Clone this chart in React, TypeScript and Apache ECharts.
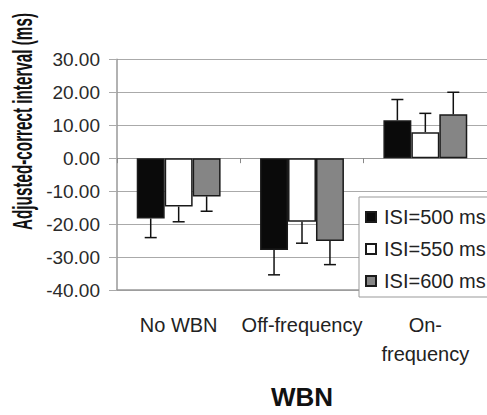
import { useEffect, useRef } from "react";
import * as echarts from "echarts";

const categories = ["No WBN", "Off-frequency", "On-frequency"];
const seriesNames = ["ISI=500 ms", "ISI=550 ms", "ISI=600 ms"];
const means500 = [-18.3, -27.9, 11.5];
const means550 = [-14.7, -19.3, 7.9];
const means600 = [-11.6, -25.1, 13.3];
const err500 = [5.8, 7.5, 6.3];
const err550 = [4.6, 6.5, 5.7];
const err600 = [4.5, 7.2, 6.7];
const yMin = -40;
const yMax = 30;
const yStep = 10;
const yTitle = "Adjusted-correct interval (ms)";
const xTitle = "WBN";

const FONT = "'Liberation Sans', Arial, Helvetica, sans-serif";
const barColors = ["#0a0a0a", "#ffffff", "#858585"];
const CAT_GAP = 0.32;

export default function App() {
  const ref = useRef<HTMLDivElement>(null);
  useEffect(() => {
    if (!ref.current) return;
    const chart = echarts.init(ref.current, null, { renderer: "svg" });
    const means = [means500, means550, means600];
    const errs = [err500, err550, err600];

    const barSeries = seriesNames.map((name, si) => ({
      name,
      type: "bar",
      xAxisIndex: 0,
      data: means[si],
      barGap: "0%",
      barCategoryGap: CAT_GAP * 100 + "%",
      itemStyle: { color: barColors[si], borderColor: "#1a1a1a", borderWidth: 1.5 },
      z: 2,
    }));

    const errSeries = seriesNames.map((name, si) => ({
      name: name + " err",
      type: "custom",
      xAxisIndex: 0,
      z: 3,
      encode: { x: 0, y: [1, 2] },
      data: categories.map((_, ci) => {
        const m = means[si][ci];
        return [ci, m, m + Math.sign(m) * errs[si][ci]];
      }),
      renderItem: (_params: any, api: any) => {
        const ci = api.value(0);
        const m = api.value(1);
        const e = api.value(2);
        const band = api.size([1, 0])[0];
        const bw = (band * (1 - CAT_GAP)) / 3;
        const p0 = api.coord([ci, m]);
        const p1 = api.coord([ci, e]);
        const x = p0[0] + (si - 1) * bw;
        const cap = 12;
        const st = { stroke: "#111", lineWidth: 1.5 };
        return {
          type: "group",
          children: [
            { type: "line", shape: { x1: x, y1: p0[1], x2: x, y2: p1[1] }, style: st },
            { type: "line", shape: { x1: x - cap / 2, y1: p1[1], x2: x + cap / 2, y2: p1[1] }, style: st },
          ],
        };
      },
    }));

    chart.setOption({
      animation: false,
      backgroundColor: "#ffffff",
      textStyle: { fontFamily: FONT },
      grid: { left: 117, top: 59.3, width: 373.5, height: 242.4, containLabel: false },
      legend: {
        data: seriesNames,
        orient: "vertical",
        left: 359,
        top: 197,
        itemWidth: 10,
        itemHeight: 10,
        itemGap: 12,
        icon: "rect",
        backgroundColor: "#ffffff",
        borderColor: "#999",
        borderWidth: 1,
        borderRadius: 0,
        padding: [10, 14, 6, 6],
        textStyle: { fontSize: 20, color: "#222", fontFamily: FONT, padding: [0, 0, 0, 3] },
        z: 10,
      },
      xAxis: [
        {
          type: "category",
          data: categories,
          position: "bottom",
          axisLine: { onZero: false, show: true, lineStyle: { color: "#999", width: 1.5 } },
          axisTick: { show: false },
          axisLabel: {
            interval: 0,
            fontSize: 20,
            color: "#222",
            margin: 20,
            lineHeight: 29,
            fontFamily: FONT,
            formatter: (v: string) => v.replace("On-", "On-\n"),
          },
          name: xTitle,
          nameLocation: "middle",
          nameGap: 94,
          nameTextStyle: { fontSize: 26, fontWeight: "bold", color: "#111", fontFamily: FONT },
          splitLine: { show: false },
        },
        {
          type: "category",
          data: categories,
          position: "bottom",
          axisLine: { onZero: true, show: true, lineStyle: { color: "#999", width: 1 } },
          axisTick: { show: true, length: 5, lineStyle: { color: "#888" } },
          axisLabel: { show: false },
          splitLine: { show: false },
        },
      ],
      yAxis: {
        type: "value",
        min: yMin,
        max: yMax,
        interval: yStep,
        axisLine: { show: true, lineStyle: { color: "#999", width: 1.5 } },
        axisTick: { show: true, length: 8, lineStyle: { color: "#aaa" } },
        splitLine: { show: true, lineStyle: { color: "#aaa", width: 1 } },
        axisLabel: {
          fontSize: 19,
          color: "#2a2a2a",
          margin: 17,
          fontFamily: FONT,
          formatter: (v: number) => v.toFixed(2),
        },
      },
      graphic: [
        {
          type: "text",
          x: 23,
          y: 121.5,
          rotation: Math.PI / 2,
          scaleX: 0.545,
          scaleY: 1,
          style: {
            text: yTitle,
            fontSize: 28,
            fontWeight: "bold",
            fontFamily: FONT,
            fill: "#111",
            align: "center",
            verticalAlign: "middle",
          },
        },
      ],
      series: [...barSeries, ...errSeries],
    });
    return () => chart.dispose();
  }, []);
  return (
    <div
      ref={ref}
      style={{ position: "fixed", left: 0, top: 0, width: 487, height: 415, background: "#fff" }}
    />
  );
}
